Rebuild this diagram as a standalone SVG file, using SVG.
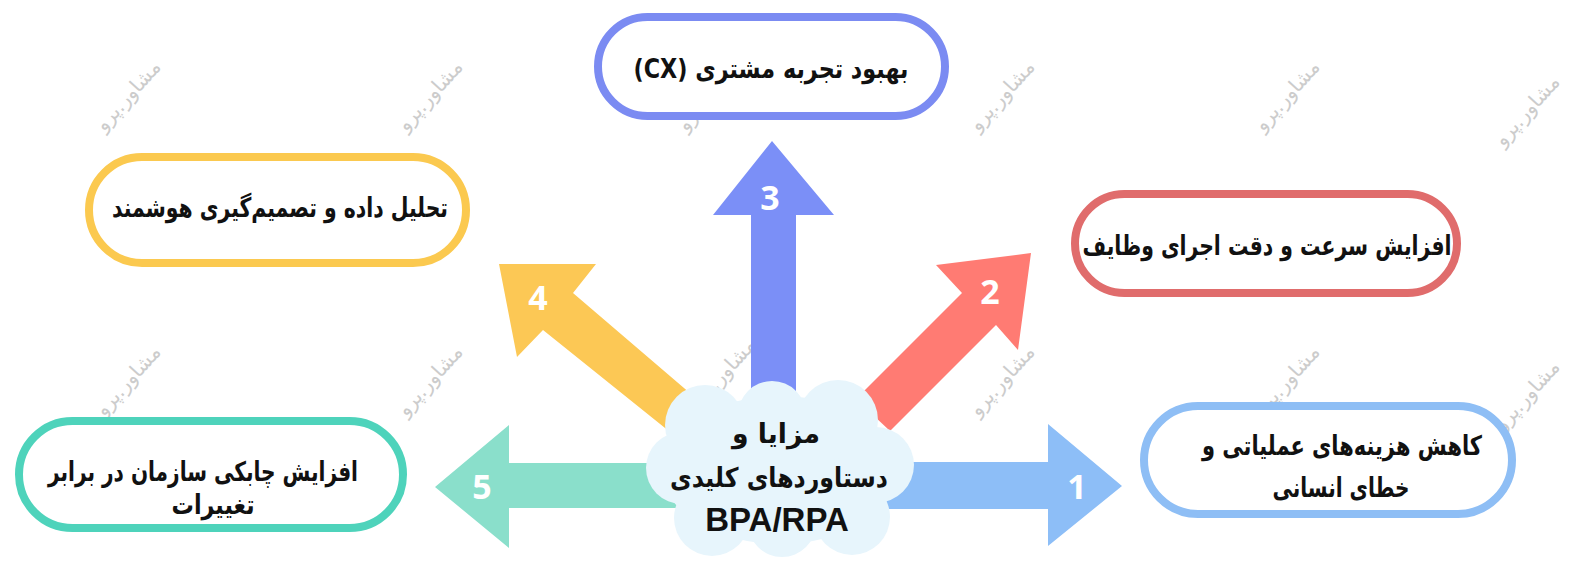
<svg xmlns="http://www.w3.org/2000/svg" width="1575" height="568" viewBox="0 0 1575 568">
<style>
.wm{font-family:"DejaVu Sans",sans-serif;font-size:20px;fill:#cccccc;}
.box{fill:#ffffff;stroke-width:8;}
.lbl{font-family:"DejaVu Sans","Noto Sans",sans-serif;font-weight:bold;font-size:27px;fill:#111111;text-anchor:middle;}
.num{font-family:"Open Sans","Liberation Sans",sans-serif;font-weight:bold;font-size:34px;fill:#ffffff;text-anchor:middle;}
.cloud{fill:#e7f5fc;}
</style>
<rect width="1575" height="568" fill="#ffffff"/>
<g id="watermarks">
<text class="wm" direction="rtl" text-anchor="middle" transform="translate(133,100) rotate(-48)">مشاور.پرو</text>
<text class="wm" direction="rtl" text-anchor="middle" transform="translate(435,100) rotate(-48)">مشاور.پرو</text>
<text class="wm" direction="rtl" text-anchor="middle" transform="translate(715,100) rotate(-48)">مشاور.پرو</text>
<text class="wm" direction="rtl" text-anchor="middle" transform="translate(1007,100) rotate(-48)">مشاور.پرو</text>
<text class="wm" direction="rtl" text-anchor="middle" transform="translate(1292,100) rotate(-48)">مشاور.پرو</text>
<text class="wm" direction="rtl" text-anchor="middle" transform="translate(1532,115) rotate(-48)">مشاور.پرو</text>
<text class="wm" direction="rtl" text-anchor="middle" transform="translate(133,385) rotate(-48)">مشاور.پرو</text>
<text class="wm" direction="rtl" text-anchor="middle" transform="translate(435,385) rotate(-48)">مشاور.پرو</text>
<text class="wm" direction="rtl" text-anchor="middle" transform="translate(728,378) rotate(-48)">مشاور.پرو</text>
<text class="wm" direction="rtl" text-anchor="middle" transform="translate(1007,385) rotate(-48)">مشاور.پرو</text>
<text class="wm" direction="rtl" text-anchor="middle" transform="translate(1292,385) rotate(-48)">مشاور.پرو</text>
<text class="wm" direction="rtl" text-anchor="middle" transform="translate(1532,400) rotate(-48)">مشاور.پرو</text>
</g>
<g id="connectors">
<g id="arrow-1"><polygon points="880,462 1048,462 1048,424 1122,486 1048,546 1048,509 880,509" fill="#8dbef7"/><text class="num" x="1077" y="499">1</text></g>
<g id="arrow-2"><polygon points="856,399 962,293 936,265 1031,253 1018,350 996,325 890,431" fill="#ff7b73"/><text class="num" x="990" y="304">2</text></g>
<g id="arrow-3"><polygon points="751,395 751,215 713,215 772,141 834,215 796,215 796,395" fill="#7b8ff7"/><text class="num" x="770" y="210">3</text></g>
<g id="arrow-4"><polygon points="705,406 573,293 596,264 499,264 517,357 543,330 675,436" fill="#fcc855"/><text class="num" x="538" y="310">4</text></g>
<g id="arrow-5"><polygon points="680,463 509,463 509,425 435,487 509,548 509,508 680,508" fill="#8adfcb"/><text class="num" x="482" y="499">5</text></g>
</g>
<g id="center-cloud">
<g class="cloud">
<ellipse cx="780" cy="470" rx="118" ry="74"/>
<circle cx="705" cy="425" r="40"/>
<circle cx="772" cy="415" r="34"/>
<circle cx="838" cy="420" r="40"/>
<circle cx="876" cy="465" r="38"/>
<circle cx="852" cy="517" r="38"/>
<circle cx="782" cy="523" r="34"/>
<circle cx="712" cy="518" r="38"/>
<circle cx="682" cy="468" r="36"/>
</g>
<text class="lbl" direction="rtl" x="776" y="443" textLength="88" lengthAdjust="spacingAndGlyphs">مزایا و</text>
<text class="lbl" direction="rtl" x="779" y="487" textLength="218" lengthAdjust="spacingAndGlyphs">دستاوردهای کلیدی</text>
<text class="lbl" x="777" y="531" style="font-family:'Liberation Sans',Arial,sans-serif;font-size:33px">BPA/RPA</text>
</g>
<g id="node-3">
<rect class="box" x="598" y="17" width="347" height="99" rx="49.5" stroke="#7b8bf2"/>
<text class="lbl" direction="rtl" x="771" y="78" textLength="275" lengthAdjust="spacingAndGlyphs">بهبود تجربه مشتری (CX)</text>
</g>
<g id="node-2">
<rect class="box" x="1075" y="194" width="382" height="99" rx="49.5" stroke="#e06c6c"/>
<text class="lbl" direction="rtl" x="1267" y="255" textLength="369" lengthAdjust="spacingAndGlyphs">افزایش سرعت و دقت اجرای وظایف</text>
</g>
<g id="node-1">
<rect class="box" x="1144" y="406" width="368" height="108" rx="54" stroke="#8ebef5"/>
<text class="lbl" direction="rtl" x="1342" y="455" textLength="280" lengthAdjust="spacingAndGlyphs">کاهش هزینه‌های عملیاتی و</text>
<text class="lbl" direction="rtl" x="1341" y="497" textLength="137" lengthAdjust="spacingAndGlyphs">خطای انسانی</text>
</g>
<g id="node-4">
<rect class="box" x="89" y="157" width="377" height="106" rx="53" stroke="#fbc94f"/>
<text class="lbl" direction="rtl" x="280" y="217" textLength="336" lengthAdjust="spacingAndGlyphs">تحلیل داده و تصمیم‌گیری هوشمند</text>
</g>
<g id="node-5">
<rect class="box" x="19" y="421" width="384" height="107" rx="53.5" stroke="#4ed3bb"/>
<text class="lbl" direction="rtl" x="203" y="481" textLength="310" lengthAdjust="spacingAndGlyphs">افزایش چابکی سازمان در برابر</text>
<text class="lbl" direction="rtl" x="213" y="514" textLength="83" lengthAdjust="spacingAndGlyphs">تغییرات</text>
</g>
</svg>
